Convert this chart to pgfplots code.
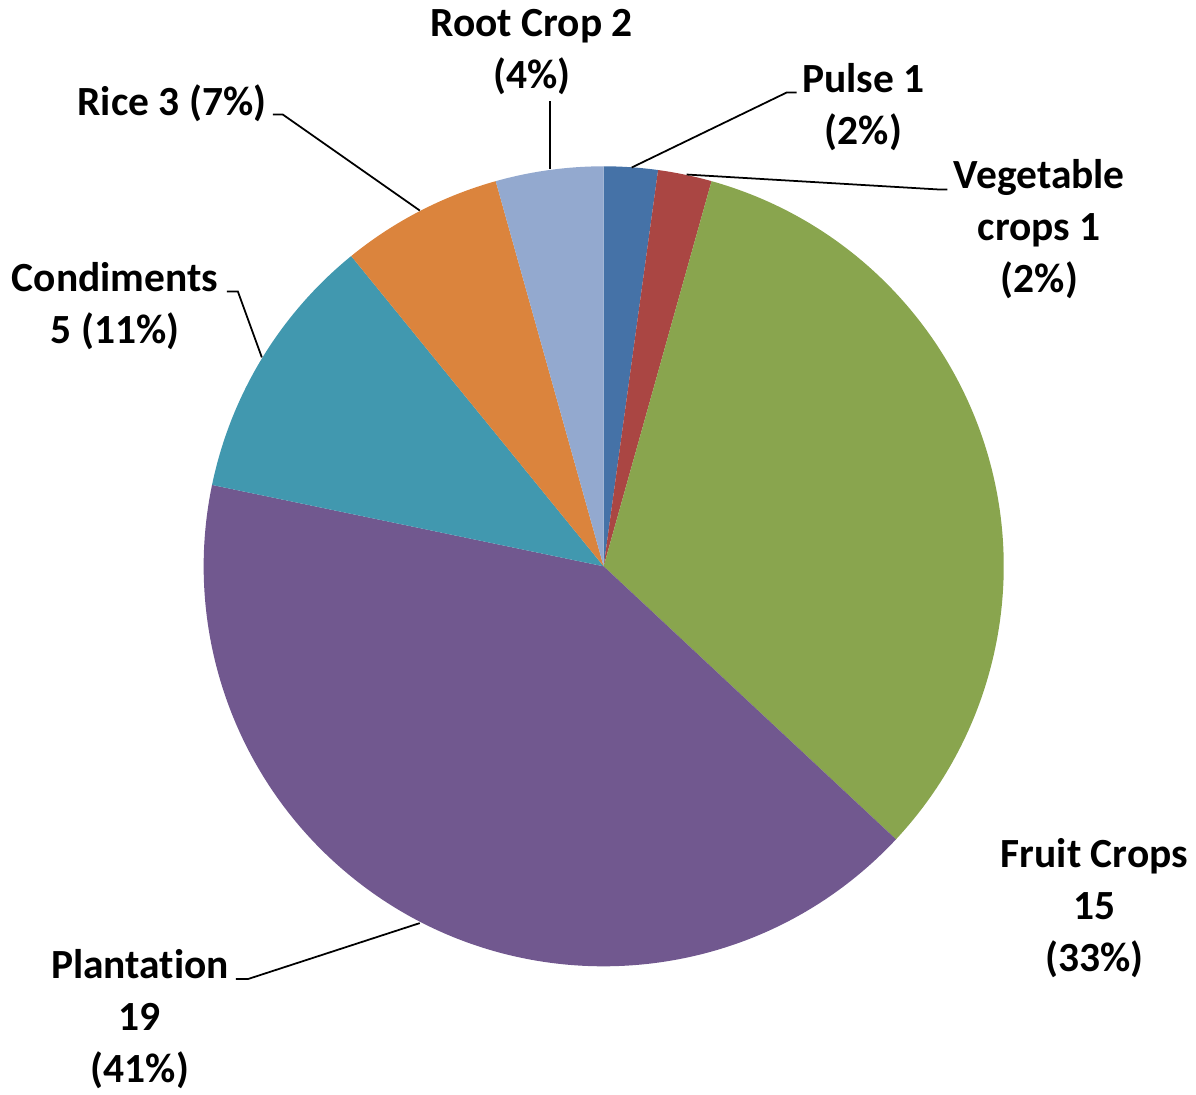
\documentclass[border=0pt]{standalone}
\usepackage{pgfplots}
\pgfplotsset{compat=1.18}
\usepackage{fontspec}
\setmainfont{Carlito}[Ligatures=CommonOff]

\definecolor{cPulse}{HTML}{4572A7}
\definecolor{cVeg}{HTML}{AA4643}
\definecolor{cFruit}{HTML}{89A54E}
\definecolor{cPlant}{HTML}{71588F}
\definecolor{cCond}{HTML}{4198AF}
\definecolor{cRice}{HTML}{DB843D}
\definecolor{cRoot}{HTML}{93A9CF}

% one slice: value, colour (clockwise from 12 o'clock)
\newcommand\pieslice[2]{%
  \pgfmathsetmacro\aa{90-\cum/\total*360}%
  \pgfmathsetmacro\ab{90-(\cum+#1)/\total*360}%
  \edef\temp{\noexpand\fill[#2] (axis cs:604,528) -- ++(\aa:4cm)
    arc[start angle=\aa, end angle=\ab, radius=4cm] -- cycle;}%
  \temp
  \pgfmathsetmacro\tmpcum{\cum+#1}\xdef\cum{\tmpcum}%
}

\begin{document}
\begin{tikzpicture}[
    lbl/.style={align=center, inner sep=0pt,
        font=\fontsize{11.8}{14.8}\selectfont\bfseries},
    lead/.style={line width=0.5pt},
]
\begin{axis}[
    x=0.01cm, y=0.01cm,
    xmin=0, xmax=1196, ymin=0, ymax=1094,
    hide axis, clip=false,
]
\xdef\cum{0}
\pgfmathsetmacro\total{1+1+15+19+5+3+2}
\pieslice{1}{cPulse}
\pieslice{1}{cVeg}
\pieslice{15}{cFruit}
\pieslice{19}{cPlant}
\pieslice{5}{cCond}
\pieslice{3}{cRice}
\pieslice{2}{cRoot}

% leader lines
\draw[lead] (axis cs:550,926) -- (axis cs:550,994);
\draw[lead] (axis cs:632,927) -- (axis cs:787,1002) -- (axis cs:797,1002);
\draw[lead] (axis cs:687,920) -- (axis cs:940,905) -- (axis cs:948,905);
\draw[lead] (axis cs:420,884) -- (axis cs:283,980) -- (axis cs:273,980);
\draw[lead] (axis cs:262,737) -- (axis cs:238,803) -- (axis cs:227,803);
\draw[lead] (axis cs:420,171) -- (axis cs:248,115) -- (axis cs:236,115);

% labels
\node[lbl] at (axis cs:532,1043) {Root Crop 2\\(4\%)};
\node[lbl] at (axis cs:864,987) {Pulse 1\\(2\%)};
\node[lbl] at (axis cs:1040,865) {Vegetable\\crops 1\\(2\%)};
\node[lbl] at (axis cs:172,991) {Rice 3 (7\%)};
\node[lbl] at (axis cs:115,788) {Condiments\\5 (11\%)};
\node[lbl] at (axis cs:1095,186) {Fruit Crops\\15\\(33\%)};
\node[lbl] at (axis cs:140,75) {Plantation\\19\\(41\%)};
\end{axis}
\pgfresetboundingbox
\path[use as bounding box] (0,0) rectangle (11.96cm,10.94cm);
\end{tikzpicture}
\end{document}
